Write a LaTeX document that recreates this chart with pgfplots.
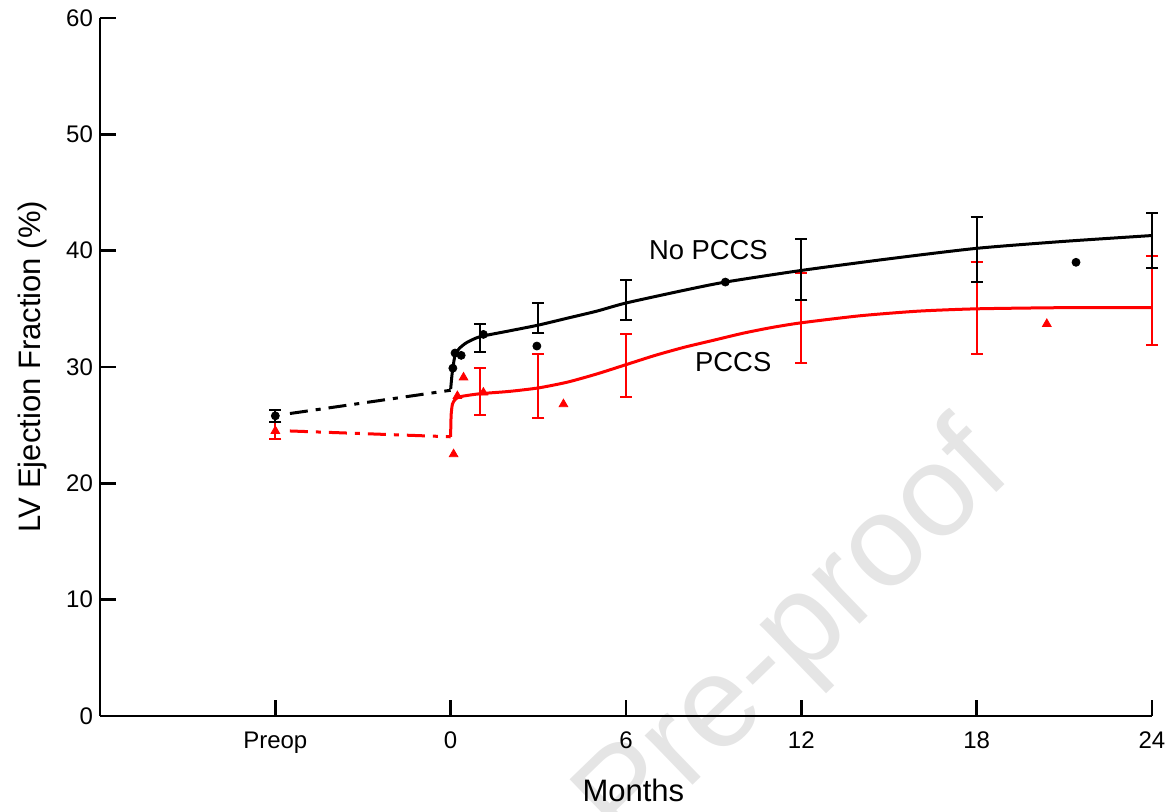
\documentclass[border=0pt]{standalone}
\usepackage{fontspec}
\setmainfont{Liberation Sans}
\usepackage{pgfplots}
\usepackage{pgfplotstable}
\pgfplotsset{compat=1.18}

\pgfplotstableread{
x y
0 28.1
0.04 29.2
0.075 29.9
0.15 31.0
0.3 31.6
0.55 32.1
1 32.6
2 33.1
3 33.6
4 34.2
5 34.8
6 35.5
8 36.6
9.4 37.3
12 38.3
15 39.3
18 40.2
21 40.8
24 41.3
}\blackcurve

\pgfplotstableread{
x y
0 24.0
0.005 25.0
0.02 26.0
0.06 26.8
0.15 27.2
0.33 27.45
1 27.7
2 27.9
3 28.2
4 28.7
5 29.4
6 30.2
7 31.0
8 31.7
9 32.3
10 32.9
11 33.4
12 33.8
14 34.4
16 34.8
18 35.0
21 35.1
24 35.1
}\redcurve

\pgfplotstableread{
x y e
-6 25.8 0.5
1 32.5 1.2
3 34.2 1.3
6 35.75 1.75
12 38.4 2.6
18 40.1 2.8
24 40.85 2.35
}\blackerr

\pgfplotstableread{
x y e
-6 24.55 0.75
1 27.9 2.0
3 28.35 2.75
6 30.1 2.7
12 34.2 3.9
18 35.05 3.95
24 35.7 3.8
}\rederr

\pgfplotstableread{
x y
-6 25.8
0.075 29.9
0.15 31.2
0.36 31.0
1.12 32.8
2.95 31.8
9.4 37.3
21.4 39.0
}\blackpts

\pgfplotstableread{
x y
-6 24.5
0.1 22.5
0.23 27.5
0.44 29.1
1.12 27.8
3.86 26.8
20.4 33.7
}\redpts

\begin{document}
\begin{tikzpicture}
% watermark (behind everything)
\node[rotate=44, text=black!10, font=\fontsize{65}{65}\selectfont] at (348pt,38.5pt) {Pre-proof};
\begin{axis}[
  at={(0,0)}, anchor=south west,
  scale only axis, width=526pt, height=349pt,
  xmin=-12, xmax=24, ymin=0, ymax=60,
  clip=false,
  axis x line=bottom, axis y line=left,
  axis line style={-, line width=1.3pt},
  tick align=inside,
  major tick length=8pt,
  tick style={line width=1.3pt, black},
  xtick={-6,0,6,12,18,24},
  xticklabels={Preop,0,6,12,18,24},
  ytick={0,10,20,30,40,50,60},
  /pgf/number format/assume math mode=true,
  ticklabel style={font=\fontsize{12}{14}\selectfont},
  xticklabel style={yshift=-4.5pt},
  xlabel={Months},
  ylabel={LV Ejection Fraction (\%)},
  label style={font=\fontsize{15.5}{18}\selectfont},
  xlabel style={at={(axis description cs:0.507,-0.1232)}, anchor=base},
  ylabel style={at={(axis description cs:-0.057,0.5)}, anchor=base},
]
% dash-dot connectors
\addplot[black, line width=1.5pt, dash pattern=on 9pt off 4pt on 2.5pt off 4pt] coordinates {(-5.5,26.0) (0,28.0)};
\addplot[red, line width=1.5pt, dash pattern=on 9pt off 4pt on 2.5pt off 4pt] coordinates {(-5.5,24.5) (0,24.0)};
% error bars
\addplot[draw=none, forget plot, error bars/.cd, y dir=both, y explicit,
  error bar style={draw=red, line width=1pt, solid},
  error mark options={draw=red, rotate=90, mark size=3pt, line width=1pt}]
  table[x=x, y=y, y error=e] {\rederr};
\addplot[draw=none, forget plot, error bars/.cd, y dir=both, y explicit,
  error bar style={draw=black, line width=1pt, solid},
  error mark options={draw=black, rotate=90, mark size=3pt, line width=1pt}]
  table[x=x, y=y, y error=e] {\blackerr};
% curves
\addplot[red, line width=1.5pt, smooth, tension=0.4] table[x=x,y=y] {\redcurve};
\addplot[black, line width=1.5pt, smooth, tension=0.4] table[x=x,y=y] {\blackcurve};
% data points
\addplot[only marks, mark=triangle*, mark size=2.5pt, red, mark options={fill=red, draw=red}] table[x=x,y=y] {\redpts};
\addplot[only marks, mark=*, mark size=2pt, black] table[x=x,y=y] {\blackpts};
% annotations
\node[font=\fontsize{13.7}{16}\selectfont] at (axis cs:8.82,40.06) {No PCCS};
\node[font=\fontsize{13.7}{16}\selectfont] at (axis cs:9.67,30.43) {PCCS};
\end{axis}
\pgfresetboundingbox
\path[use as bounding box] (-50pt,-48pt) rectangle (534.5pt,358pt);
\end{tikzpicture}
\end{document}
